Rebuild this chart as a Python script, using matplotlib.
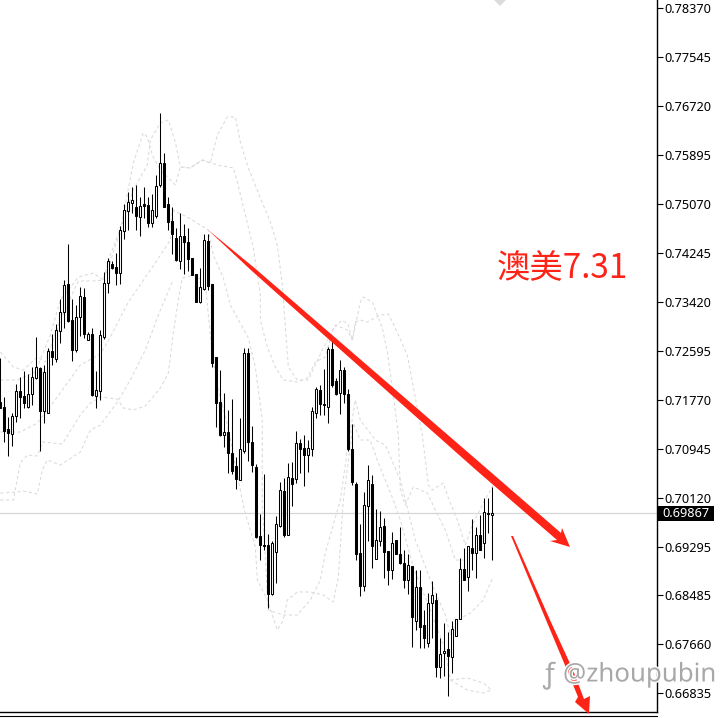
import matplotlib
matplotlib.use("Agg")
import matplotlib.pyplot as plt
from matplotlib.patches import Polygon
from matplotlib.transforms import Affine2D
import matplotlib.patheffects as pe

plt.rcParams['font.family'] = ['Noto Sans', 'DejaVu Sans']

# candle values in 1e-5 price points
opens = [71736,71652,71281,71198,71501,71922,71838,71652,71872,72140,72309,71585,71551,72595,72460,
 72932,73252,73724,73117,72612,73168,73504,72780,72882,71838,71922,72831,73740,74060,74010,
 73908,74615,74952,75087,75020,74851,75071,75054,74750,74868,75390,75760,75071,74784,74498,
 74110,74531,74430,74161,73891,73420,73639,74447,73724,72494,71736,71181,71231,70878,70659,
 70423,70911,72561,71063,70642,69481,69329,69329,68504,69211,69649,70238,69497,70457,70440,
 71046,70962,70844,70945,71551,71939,71703,71652,72629,72090,71888,72275,71872,70945,70356,
 69194,68638,69985,70356,69093,69396,69649,69228,68908,69413,69177,69025,68740,68975,68049,
 68622,67982,67678,68352,68403,67275,67511,67578,67443,67797,68083,68925,68790,69279,69194,
 69497,69363,69868,69834]
closes = [71635,71248,71214,71501,71922,71821,71719,71872,72157,72326,71585,72241,72595,72494,72949,
 73252,73707,73100,72612,73168,73521,72882,72882,71855,71939,72865,73740,74110,73993,73908,
 74632,74969,75104,75138,74868,75037,75037,74750,74969,75373,75760,75020,74767,74565,74127,
 74531,74430,74144,73875,73420,73673,74464,73690,72393,71719,71181,71231,70878,70575,70440,
 70945,72561,71063,70676,69464,69329,69312,68504,69363,69683,70255,69497,70474,70356,71046,
 70945,70844,70962,71585,71956,71703,71686,72629,72023,71872,72275,71872,70945,70389,69177,
 68638,70002,70423,69312,69413,69632,69211,68908,69363,69177,69025,68740,68992,68117,68622,
 67949,67763,68352,68487,67275,67494,67544,67460,67915,68083,68925,68740,69312,69194,69497,
 69245,69885,69851,69867]
highs = [72477,71821,71484,71551,72040,72157,72258,72208,72326,72831,72326,72360,72645,72882,73050,
 73470,73791,74397,73470,73370,73673,73656,72915,72982,72258,72949,73925,74161,74110,74245,
 74700,75071,75272,75356,75390,75188,75356,75188,75239,75558,76602,75929,75188,75020,74666,
 74918,74733,74666,74161,73891,73993,74565,74565,73724,72494,72275,71888,71602,71787,70811,
 71467,72645,72645,71332,70693,69851,70524,69514,69396,69817,70389,70457,70710,70726,71248,
 71114,71181,71097,71652,71990,72023,72292,72662,72797,72140,72444,72326,71956,71366,70389,
 69683,70221,70676,70507,69935,69901,69784,69228,69548,69413,69632,69245,69177,68975,68908,
 68908,68234,68521,68723,68521,67763,68016,67864,68049,68083,69110,69279,69312,69767,69632,
 69834,70120,70120,70305]
lows = [71635,71063,70827,70996,71399,71467,71635,71635,71686,72123,70911,71382,71551,72360,72410,
 72729,72982,73083,72427,72578,72848,72814,72780,71838,71635,71770,72797,73571,73976,73707,
 73724,74481,74632,74918,74632,74531,74834,74683,74683,74834,75356,75020,74632,74229,74110,
 73976,73891,73942,73875,73420,73403,73622,73622,72326,71316,71164,70979,70541,70524,70272,
 70423,70878,70743,70558,69447,69076,69245,68268,68487,68689,69632,69464,69497,69985,70373,
 70541,70322,70558,70827,71467,71518,71518,71382,71990,71855,71535,71719,70911,70339,69076,
 68470,68554,69396,68942,69093,69312,68773,68655,68756,69177,69009,68605,68504,67611,67898,
 67594,67594,67611,67763,67106,67090,67123,66786,67174,67797,68083,68740,68554,68908,68773,
 69245,69110,69531,69076]

band1_idx = [0,4.25,8.75,12.5,15,19.5,23.25,25.75,27.5,31.25,33.25,36.75,37.5,40,42,43.75,45,47.5,50.5,52.5,54.25,56.75,58.75,60,62,65,67.5,69.25,70.5,72,74.25,77,80.5,83.75,86.75,88,90,90.75,93,95.5,96.75,98.25,99.5,100,101.25,103.25,106.75,108.75,111.25,113.75,115.75]
band1_val = [72107,72107,72241,72865,73454,73841,73908,73791,74212,74885,75306,75727,76148,76434,76484,76114,75694,75677,75811,75760,76232,76535,76535,76114,75677,75171,74767,74380,73707,72326,72107,72107,72612,73033,72949,72780,73420,73504,73420,72982,72578,71855,71181,70255,70002,70305,70204,69918,69581,69076,69076]
band2_idx = [0,3.25,5.75,9.25,11.25,15,19.5,23.25,25.75,27.5,30,33.25,35.75,36.75,38,40,43.75,45,47.5,50.5,54.25,58.25,59.25,63.25,65,65,66.75,68.75,70.75,74.25,76.75,78.75,81.25,83.25,85.5,87,88,88.75,90,91.75,95,97,98.75,101.75,103.75,105.5,107,108,110.75,112,114.25,116.25,118,120.75,123.25]
band2_val = [72578,72326,72275,72494,72410,73117,73775,73775,73791,74094,74632,75760,76266,76198,75895,75643,75390,75694,75677,75811,75727,75677,75441,74329,73538,73117,72662,72326,72107,72073,72140,72410,72494,72982,73117,73033,72780,73083,73117,73083,73201,73218,72982,72528,71804,71181,70339,70255,70373,70120,69750,69329,69666,70036,70339]
band3_idx = [0,3.25,5,6.75,9.25,10.5,15.5,20,22.5,25,29.25,30.75,33.25,36.25,40,42,43.25,44.5,45.5,48.25,51.25,52,53,54.5,56.5,58.75,61,63.75,64.25,66.75,69.25,70.75,71.75,74.25,77.5,80.75,83.25,84.5,85.75,88.25,90,92.5,94.5,98.25,100,103.25,107.5,111.25,112.5,116.75,120.75,122.75]
band3_val = [70086,70086,70710,70844,70827,71063,71030,71518,71719,71821,71787,71635,71602,71669,71972,72224,72899,73454,73825,73875,73757,73201,72528,71939,71433,70676,69918,69296,68740,68403,67898,68066,68403,68538,68538,68487,68369,68790,70086,71382,71097,71097,70710,70086,69750,68959,68234,67561,67056,67090,67005,66887]
band4_idx = [112.5,116.75,120.75,122.75]
band4_val = [67056,66887,66836,66887]
band5_idx = [0,4.25,5.75,9.25,10.5,11.75,15,20,22.5,25,29.25,32.5,36.25,40,43]
band5_val = [70204,70221,70238,70188,70592,70760,70676,70895,71265,71349,71736,72107,72612,73286,73757]
band6_idx = [0,5,9.25,14.25,20,25,27.5,32,39.25,42.5,43,46.75,52,53.25,55.75,57.5,62,63.75,65.5,65.5,67,70.75,74.25,77.5,80,81.25,85,86.75,88.75,90,93.75,96.25,100,103.75,108,111.25,112.5,114.25,117.5,120.75,122.5,123.25]
band6_val = [71231,71231,71382,71821,72360,72545,72831,73420,74127,74464,74969,74851,74632,74212,73825,73370,72814,72326,71433,70002,68234,68150,68150,68403,68740,69194,70086,70928,71770,71433,71097,71013,70423,69413,68655,68150,67814,68066,68184,68403,68689,68790]

tick_vals = [0.78370,0.77545,0.76720,0.75895,0.75070,0.74245,0.73420,0.72595,0.71770,0.70945,0.70120,0.69295,0.68485,0.67660,0.66835]
last_price = 0.69867

W, H = 722, 718
fig = plt.figure(figsize=(W/100, H/100), dpi=100, facecolor='white')
ax = fig.add_axes([0, (H-712)/H, 657/W, 712/H])
ax.set_xlim(-0.0825, 164.17)
ax.set_ylim(0.66517, 0.78505)

for xs, ys in [(band1_idx, band1_val), (band2_idx, band2_val), (band3_idx, band3_val),
               (band4_idx, band4_val), (band5_idx, band5_val), (band6_idx, band6_val)]:
    ax.plot(xs, [v/1e5 for v in ys], color='#dadada', lw=0.75, ls=(0, (3, 2.5)), zorder=1)

ax.axhline(last_price, color='#d6d6d6', lw=0.9, zorder=1)

for i, (o, hi, lo, c) in enumerate(zip(opens, highs, lows, closes)):
    ax.plot([i, i], [lo/1e5, hi/1e5], color='black', lw=0.75, zorder=2, solid_capstyle='butt')
    up = c >= o
    ax.bar(i, abs(c-o)/1e5, bottom=min(o, c)/1e5, width=0.5, facecolor='white' if up else 'black',
           edgecolor='black', linewidth=0.75, zorder=3)

for s in ['top', 'left']:
    ax.spines[s].set_visible(False)
ax.spines['right'].set_linewidth(1.0)
ax.spines['bottom'].set_linewidth(1.0)
ax.set_xticks([])
ax.yaxis.tick_right()
ax.set_yticks(tick_vals)
ax.set_yticklabels([f"{t:.5f}" for t in tick_vals], fontsize=9.2, color='black')
ax.tick_params(axis='y', length=4, width=0.8, pad=1.5)

px = Affine2D().scale(1, -1).translate(0, H)

# second bottom rule
fig.add_artist(plt.Line2D([0, 657], [715.5, 715.5], color='black', lw=0.8, transform=px))

# current price tag
fig.patches.append(plt.Rectangle((657, 506), 57, 15, facecolor='black', edgecolor='none', transform=px, figure=fig))
fig.text(685.5, 513.5, f"{last_price:.5f}", color='white', fontsize=9.2, ha='center', va='center', transform=px)

# grey marker at top
fig.patches.append(Polygon([(494, 0), (506, 0), (500, 6)], closed=True, facecolor='#dcdcdc', edgecolor='none', transform=px, figure=fig))

# red arrows
red = '#fe2317'
fig.patches.append(Polygon([(207, 229), (254.3, 267.8), (301.6, 308.6), (482.6, 465), (561, 533), (562, 528),
                            (570, 547), (550, 541), (557, 540), (477.4, 471.2), (298.4, 312.4), (251.7, 270.8)],
                           closed=True, facecolor=red, edgecolor='none', transform=px, figure=fig, zorder=5))
fig.patches.append(Polygon([(511, 536), (513, 536), (550, 620), (573, 670), (584, 699), (590, 696),
                            (589, 714), (575, 702), (578, 697), (567, 670), (546, 620)],
                           closed=True, facecolor=red, edgecolor='none', transform=px, figure=fig, zorder=5))

fig.text(497, 269, "澳美7.31", color=red, fontsize=24, ha='left', va='center', transform=px,
         family=['Noto Sans CJK SC', 'DejaVu Sans'], zorder=6)

outline = [pe.withStroke(linewidth=2.0, foreground='white')]
fig.text(563, 675, "@zhoupubin", color='#a8a8a8', fontsize=18.6, ha='left', va='center', transform=px,
         path_effects=outline, zorder=7)
fig.text(549, 676, "ƒ", color='#a8a8a8', fontsize=20, ha='center', va='center', transform=px,
         path_effects=outline, zorder=7)

fig.savefig('out.png', dpi=100, facecolor='white')
